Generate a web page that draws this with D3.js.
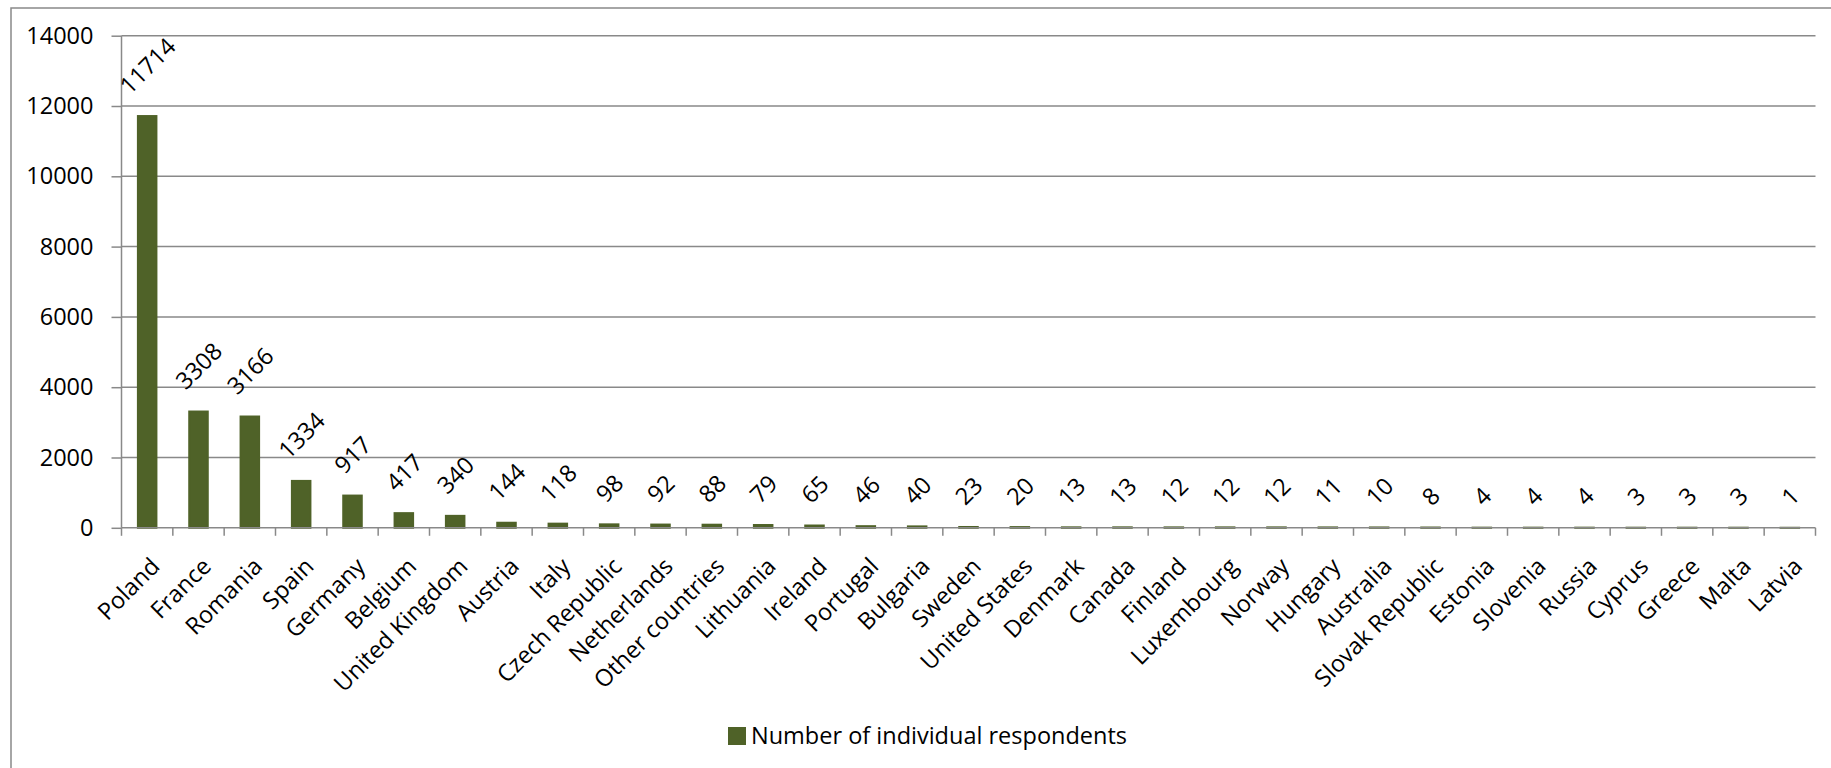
<!DOCTYPE html>
<html>
<head>
<meta charset="utf-8">
<script src="https://cdn.jsdelivr.net/npm/d3@7"></script>
<style>
  html, body { margin: 0; padding: 0; background: #fff; overflow: hidden; }
  svg { display: block; }
  text { font-family: "Open Sans", Lato, sans-serif; fill: #000; }
</style>
</head>
<body>
<svg id="chart" width="1831" height="768"></svg>
<script>
const categories = ["Poland","France","Romania","Spain","Germany","Belgium","United Kingdom","Austria","Italy","Czech Republic","Netherlands","Other countries","Lithuania","Ireland","Portugal","Bulgaria","Sweden","United States","Denmark","Canada","Finland","Luxembourg","Norway","Hungary","Australia","Slovak Republic","Estonia","Slovenia","Russia","Cyprus","Greece","Malta","Latvia"];
const respondents = [11714,3308,3166,1334,917,417,340,144,118,98,92,88,79,65,46,40,23,20,13,13,12,12,12,11,10,8,4,4,4,3,3,3,1];
const yTicks = [0,2000,4000,6000,8000,10000,12000,14000];
const seriesName = "Number of individual respondents";

const W = 1831, H = 768;
const plot = {left: 121.5, right: 1815.5, top: 35.7, bottom: 527.8};
const barColor = "#4F6228";
const lineColor = "#898989";
const fontSize = 23.5;
const fontFamily = "'Open Sans', Lato, sans-serif";

const svg = d3.select("#chart");

// outer chart border (cropped at right/bottom like the reference)
svg.append("rect").attr("x", 11).attr("y", 8).attr("width", 1860).attr("height", 800)
  .attr("fill", "none").attr("stroke", lineColor).attr("stroke-width", 1.5);

const x = d3.scaleBand().domain(categories).range([plot.left, plot.right])
  .paddingInner(0.6).paddingOuter(0.3);
const y = d3.scaleLinear().domain([0, 14000]).range([plot.bottom, plot.top]);

// gridlines
svg.append("g").selectAll("line").data(yTicks.filter(d => d > 0)).join("line")
  .attr("x1", plot.left).attr("x2", plot.right)
  .attr("y1", d => y(d)).attr("y2", d => y(d))
  .attr("stroke", lineColor).attr("stroke-width", 1.5);

// bars
const bw = x.bandwidth();
svg.append("g").selectAll("rect").data(categories).join("rect")
  .attr("x", d => x(d) + 1)
  .attr("width", bw - 2)
  .attr("y", (d, i) => y(respondents[i]))
  .attr("height", (d, i) => y(0) - y(respondents[i]))
  .attr("fill", barColor).attr("stroke", barColor).attr("stroke-width", 2);

// y axis
const yAxis = d3.axisLeft(y).tickValues(yTicks).tickSize(10).tickPadding(18).tickFormat(d3.format("d"));
const gy = svg.append("g").attr("transform", `translate(${plot.left},0)`).call(yAxis);
gy.select(".domain").attr("stroke", lineColor).attr("stroke-width", 1.5).attr("d", `M0,${plot.top}V${plot.bottom}`);
gy.selectAll(".tick line").attr("stroke", lineColor).attr("stroke-width", 1.5);
gy.selectAll(".tick text").attr("font-size", fontSize).attr("font-family", fontFamily).attr("fill", "#000");

// x axis line and tick marks at band boundaries
const step = x.step();
const boundaries = d3.range(categories.length + 1).map(i => plot.left + i * step);
svg.append("line").attr("x1", plot.left).attr("x2", plot.right)
  .attr("y1", plot.bottom).attr("y2", plot.bottom)
  .attr("stroke", lineColor).attr("stroke-width", 1.5);
svg.append("g").selectAll("line").data(boundaries).join("line")
  .attr("x1", d => d).attr("x2", d => d)
  .attr("y1", plot.bottom).attr("y2", plot.bottom + 8)
  .attr("stroke", lineColor).attr("stroke-width", 1.5);

// category labels
svg.append("g").selectAll("text").data(categories).join("text")
  .attr("transform", d => `translate(${x(d) + bw / 2 + 14},${plot.bottom + 40}) rotate(-45)`)
  .attr("text-anchor", "end")
  .attr("font-size", fontSize)
  .text(d => d);

// value labels
const vl = svg.append("g").selectAll("text").data(categories).join("text")
  .attr("text-anchor", "middle")
  .attr("dominant-baseline", "central")
  .attr("font-size", fontSize)
  .text((d, i) => respondents[i]);
vl.attr("transform", function(d, i) {
  const w = this.getComputedTextLength();
  const cx = x(d) + bw / 2;
  const cy = y(respondents[i]) - 0.354 * w - 27;
  return `translate(${cx},${cy}) rotate(-45)`;
});

// legend
const lg = svg.append("g");
lg.append("rect").attr("x", 728).attr("y", 727).attr("width", 18).attr("height", 18).attr("fill", barColor);
lg.append("text").attr("x", 751).attr("y", 744).attr("font-size", fontSize).text(seriesName);
</script>
</body>
</html>
